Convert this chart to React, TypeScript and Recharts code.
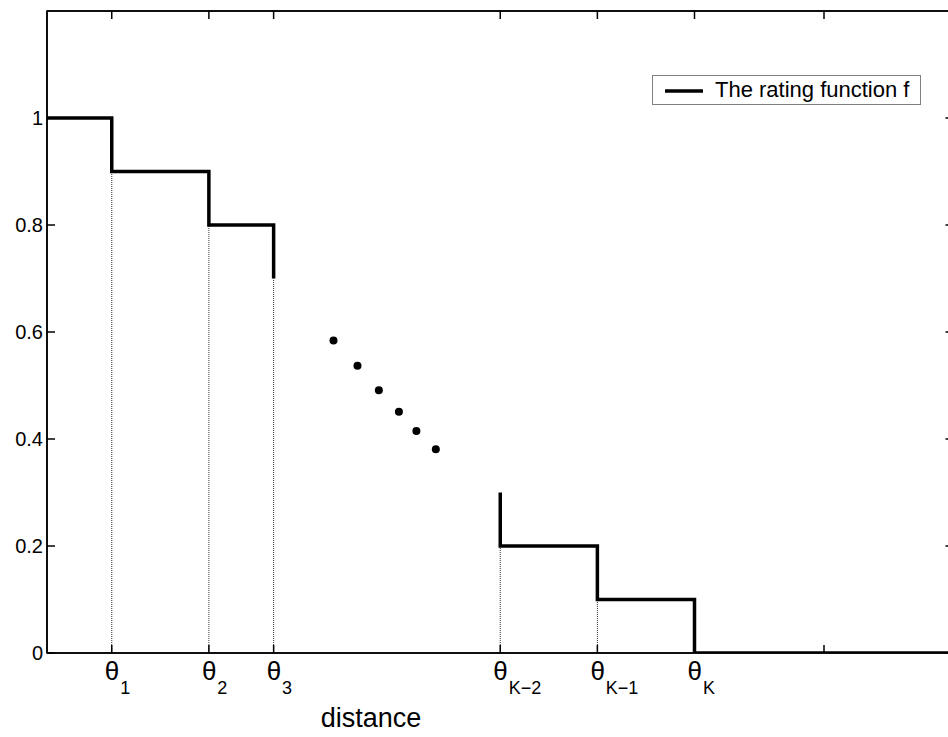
import {
  ComposedChart,
  Line,
  Scatter,
  XAxis,
  YAxis,
  ReferenceLine,
  ReferenceArea,
  Legend
} from 'recharts'

const FONT = '"Liberation Sans", Arial, Helvetica, sans-serif'

// thresholds θ on the distance axis (24 is an extra unlabeled tick)
const thetaTicks = [2, 5, 7, 14, 17, 20, 24]
const thetaSubs = ['1', '2', '3', 'K\u22122', 'K\u22121', 'K', '']
const valueTicks = [0, 0.2, 0.4, 0.6, 0.8, 1]

// rating function, drawn as steps through these points
const headX = [0, 2, 5, 7]
const headY = [1, 0.9, 0.8, 0.7]
const tailX = [14, 14, 17, 20, 28]
const tailY = [0.3, 0.2, 0.1, 0, 0]

// dotted drop lines under each threshold
const guideX = [2, 5, 7, 14, 17]
const guideTop = [0.9, 0.8, 0.7, 0.2, 0.1]

// the "..." between the two parts
const dotX = [8.85, 9.59, 10.25, 10.87, 11.41, 12.01]
const dotY = [0.584, 0.537, 0.491, 0.451, 0.415, 0.381]

const head = headX.map((x, i) => ({ x, y: headY[i] }))
const tail = tailX.map((x, i) => ({ x, y: tailY[i] }))
const dots = dotX.map((x, i) => ({ x, y: dotY[i] }))

function ThetaTick({ x, y, payload }: any) {
  const sub = thetaSubs[thetaTicks.indexOf(payload.value)]
  return (
    <g>
      <line x1={x} y1={y} x2={x} y2={y - 8} stroke="#000" strokeWidth={1.5} />
      {sub ? (
        <text x={x - 7} y={y + 27} fontFamily={FONT} fill="#000">
          <tspan fontSize={26}>θ</tspan>
          <tspan fontSize={18} dx={1} dy={14}>{sub}</tspan>
        </text>
      ) : null}
    </g>
  )
}

function ValueTick({ x, y, payload }: any) {
  return (
    <g>
      <line x1={x} y1={y} x2={x + 8} y2={y} stroke="#000" strokeWidth={1.5} />
      <text x={x - 4} y={y} textAnchor="end" dominantBaseline="central"
        fontFamily={FONT} fontSize={20} fill="#000">
        {payload.value}
      </text>
    </g>
  )
}

function TopTick({ x, y }: any) {
  return <line x1={x} y1={y} x2={x} y2={y + 8} stroke="#000" strokeWidth={1.5} />
}

function RightTick({ x, y }: any) {
  return <line x1={x} y1={y} x2={x - 8} y2={y} stroke="#000" strokeWidth={1.5} />
}

function AxisTitle({ viewBox }: any) {
  return (
    <text x={viewBox.x + 324} y={viewBox.y + 74} textAnchor="middle"
      fontFamily={FONT} fontSize={27} fill="#000">
      distance
    </text>
  )
}

function RatingLegend() {
  return (
    <div style={{
      width: 269, height: 30, boxSizing: 'border-box', border: '1px solid #808080',
      background: '#fff', position: 'relative', fontFamily: FONT
    }}>
      <svg width={50} height={28} style={{ position: 'absolute', left: 0, top: 0 }}>
        <line x1={12} y1={15} x2={50} y2={15} stroke="#000" strokeWidth={3.5} />
      </svg>
      <span style={{
        position: 'absolute', left: 62, top: 1, fontSize: 22, lineHeight: '26px', color: '#000'
      }}>
        The rating function f
      </span>
    </div>
  )
}

export default function App() {
  return (
    <div style={{ position: 'absolute', left: 0, top: 0, width: 948, height: 737, overflow: 'hidden', background: '#fff' }}>
      <ComposedChart width={960} height={737} margin={{ top: 10, right: 5.5, bottom: 0, left: 0 }}>
        <XAxis xAxisId="b" type="number" dataKey="x" domain={[0, 28]} ticks={thetaTicks}
          allowDataOverflow interval={0} height={84} tickSize={0} tickMargin={0}
          axisLine={{ stroke: '#000', strokeWidth: 1.5 }} tickLine={false}
          tick={<ThetaTick />} label={<AxisTitle />} />
        <XAxis xAxisId="t" orientation="top" type="number" dataKey="x" domain={[0, 28]} ticks={thetaTicks}
          allowDataOverflow interval={0} height={1} tickSize={0} tickMargin={0}
          axisLine={{ stroke: '#000', strokeWidth: 1.5 }} tickLine={false} tick={<TopTick />} />
        <YAxis yAxisId="l" type="number" domain={[0, 1.2]} ticks={valueTicks}
          allowDataOverflow interval={0} width={47} tickSize={0} tickMargin={0}
          axisLine={{ stroke: '#000', strokeWidth: 1.5 }} tickLine={false} tick={<ValueTick />} />
        <YAxis yAxisId="r" orientation="right" type="number" domain={[0, 1.2]} ticks={valueTicks}
          allowDataOverflow interval={0} width={1} tickSize={0} tickMargin={0}
          axisLine={{ stroke: '#000', strokeWidth: 1.5 }} tickLine={false} tick={<RightTick />} />

        {/* box frame */}
        <ReferenceArea xAxisId="b" yAxisId="l" x1={0} x2={28} y1={0} y2={1.2}
          fill="none" fillOpacity={0} stroke="#000" strokeWidth={1.5} ifOverflow="visible" />

        {guideX.map((gx, i) => (
          <ReferenceLine key={gx} xAxisId="b" yAxisId="l"
            segment={[{ x: gx, y: 0 }, { x: gx, y: guideTop[i] }]}
            stroke="#333" strokeWidth={1} strokeDasharray="1 1" />
        ))}

        <Line xAxisId="b" yAxisId="l" data={head} dataKey="y" type="stepAfter"
          stroke="#000" strokeWidth={3.5} dot={false} isAnimationActive={false}
          name="The rating function f" />
        <Line xAxisId="b" yAxisId="l" data={tail} dataKey="y" type="stepAfter"
          stroke="#000" strokeWidth={3.5} dot={false} isAnimationActive={false}
          legendType="none" />
        <Scatter xAxisId="b" yAxisId="l" data={dots} dataKey="y" fill="#000"
          shape={(p: any) => <circle cx={p.cx} cy={p.cy} r={4} fill="#000" />}
          isAnimationActive={false} legendType="none" />
        {/* invisible series so the frame axes get data bound to them */}
        <Line xAxisId="t" yAxisId="r" data={head} dataKey="y" stroke="none" dot={false}
          activeDot={false} isAnimationActive={false} legendType="none" />

        <Legend layout="vertical" align="center" verticalAlign="middle"
          wrapperStyle={{ left: 652, top: 75, width: 269, height: 30 }}
          content={() => <RatingLegend />} />
      </ComposedChart>
    </div>
  )
}
